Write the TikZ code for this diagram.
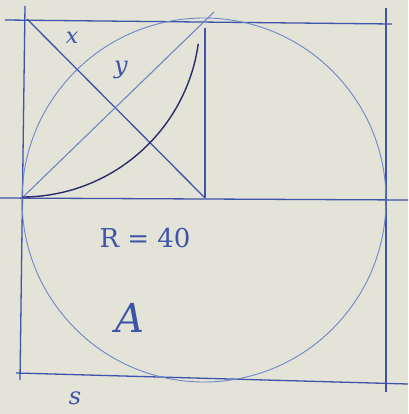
\documentclass[tikz,border=0pt]{standalone}
\usepackage{fontspec}
\setmainfont{DejaVu Serif}
\definecolor{paper}{RGB}{228,227,216}
\definecolor{ink}{RGB}{60,85,170}
\definecolor{inkdark}{RGB}{40,45,110}
\definecolor{pale}{RGB}{110,135,200}
\begin{document}
\begin{tikzpicture}[x=1pt,y=-1pt,
  edge/.style={draw=ink,line width=1.3pt},
  thin/.style={draw=pale,line width=0.9pt},
  lbl/.style={text=ink,font=\itshape}]
\fill[paper] (0,0) rectangle (408,414);
\useasboundingbox (0,0) rectangle (408,414);
% corners of square
\coordinate (TLa) at (5,20);
\coordinate (TRa) at (392,24);
\coordinate (Ltop) at (25,6);
\coordinate (Lbot) at (20,380);
\coordinate (Rtop) at (386,8);
\coordinate (Rbot) at (386,392);
\coordinate (Bl) at (16,373);
\coordinate (Br) at (408,384);
\coordinate (Ml) at (0,198);
\coordinate (Mr) at (408,200);
\coordinate (C) at (204,200);
\coordinate (TL) at (27,19);
\coordinate (Q) at (205,198);
\coordinate (Vt) at (205,28);
\coordinate (D1) at (22,198);
\coordinate (D2) at (214,12);
% square
\draw[edge] (TLa) -- (TRa);
\draw[edge] (Ltop) -- (Lbot);
\draw[edge] (Rtop) -- (Rbot);
\draw[edge] (Bl) -- (Br);
\draw[edge] (Ml) -- (Mr);
% circle
\draw[thin] (C) circle[radius=182];
% quadrant construction
\draw[edge] (Vt) -- (Q);
\draw[edge] (TL) -- (Q);
\draw[thin,line width=1.1pt] (D1) -- (D2);
\draw[draw=inkdark,line width=1.4pt] (22,197) arc[start angle=90,end angle=8,radius=178];
% labels
\node[lbl,font=\itshape\fontsize{22}{22}\selectfont] (x) at (72,38) {x};
\node[lbl,font=\itshape\fontsize{24}{24}\selectfont] (y) at (121,70) {y};
\node[lbl,font=\fontsize{26}{26}\selectfont] (R) at (145,238) {R = 40};
\node[lbl,font=\itshape\fontsize{40}{40}\selectfont] (A) at (130,318) {A};
\node[lbl,font=\itshape\fontsize{24}{24}\selectfont] (s) at (75,398) {s};
\end{tikzpicture}
\end{document}
